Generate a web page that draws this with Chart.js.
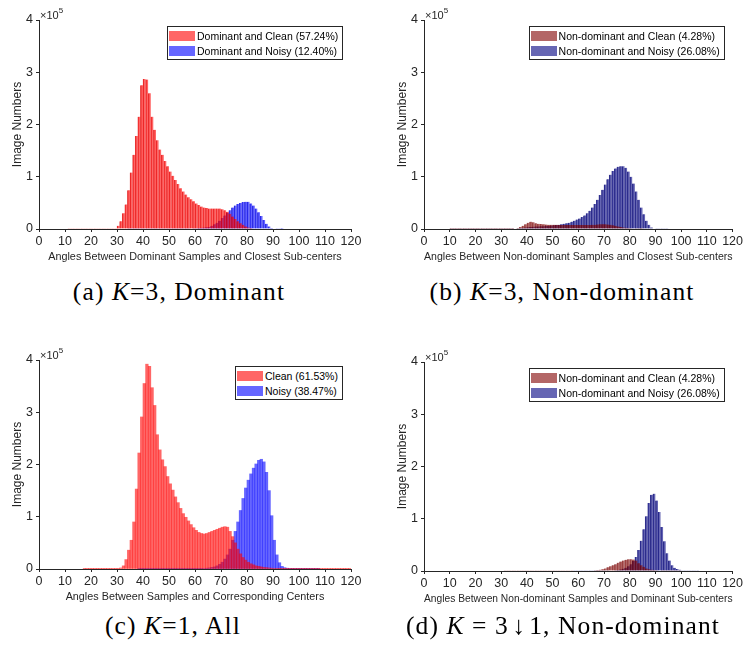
<!DOCTYPE html>
<html>
<head>
<meta charset="utf-8">
<title>Angle histograms</title>
<script src="https://cdn.jsdelivr.net/npm/chart.js@4.4.1/dist/chart.umd.min.js"></script>
<style>
  body { margin: 0; background: #fff; }
  #page { position: relative; width: 745px; height: 652px; overflow: hidden; font-family: 'Liberation Sans', Arial, sans-serif; }
  #page canvas { position: absolute; }
  .expo { position: absolute; font-size: 11px; line-height: 13px; color: #262626; white-space: nowrap; }
  .expo sup { font-size: 8px; position: relative; top: -1px; }
  .legend { position: absolute; border: 1px solid #262626; background: #fff; padding: 1px 4px 1px 1px; font-size: 10.5px; color: #000; white-space: nowrap; }
  .legend .row { height: 15px; display: flex; align-items: center; }
  .legend .sw { width: 26px; height: 10px; margin-right: 2px; }
  .caption { position: absolute; transform: translate(-50%, -50%); font-family: 'Liberation Serif', 'Times New Roman', serif; font-size: 25.5px; letter-spacing: 1.1px; color: #000; white-space: nowrap; }
</style>
</head>
<body>
<div id="page">
  <canvas id="chartA" width="372" height="270" style="left:0;top:0"></canvas>
  <canvas id="chartB" width="360" height="270" style="left:385px;top:0"></canvas>
  <canvas id="chartC" width="372" height="270" style="left:0;top:340px"></canvas>
  <canvas id="chartD" width="360" height="270" style="left:385px;top:342px"></canvas>

  <div class="caption" style="left:179px;top:292px">(a) <i>K</i>=3, Dominant</div>
  <div class="caption" style="left:562px;top:292px">(b) <i>K</i>=3, Non-dominant</div>
  <div class="caption" style="left:173px;top:626px">(c) <i>K</i>=1, All</div>
  <div class="caption" style="left:563px;top:626px">(d) <i>K</i> = 3&#8202;&#8595;&#8202;1, Non-dominant</div>
</div>

<script>
// histogram bins are 1 degree wide; each series lists counts (x 1e5) from its first bin
const binWidth = 1;

// (a) K=3, dominant sub-centers
const domCleanStart = 11;
const domClean = [
  0.005, 0.005, 0.005, 0.005, 0.005, 0.005, 0.005, 0.005, 0.005, 0.005,
  0.005, 0.005, 0.005, 0.005, 0.005, 0.005, 0.005, 0.005, 0.005,
  0.06, 0.15, 0.3, 0.47, 0.74, 1.08, 1.42, 1.78, 2.15, 2.75,
  2.87, 2.86, 2.6, 2.15, 1.9, 1.7, 1.52, 1.42, 1.3, 1.2,
  1.1, 1.02, 0.94, 0.86, 0.78, 0.72, 0.66, 0.61, 0.57, 0.53,
  0.49, 0.46, 0.43, 0.41, 0.4, 0.39, 0.39, 0.39, 0.39, 0.39,
  0.38, 0.36, 0.33, 0.29, 0.24, 0.19, 0.15, 0.11, 0.08, 0.05,
  0.03, 0.02, 0.01
];
const domNoisyStart = 34;
const domNoisy = [
  0.003, 0.003, 0.003, 0.003, 0.003, 0.003, 0.003, 0.003, 0.003, 0.003,
  0.003, 0.003, 0.003, 0.003, 0.003, 0.003, 0.003, 0.003, 0.003, 0.003,
  0.003, 0.003, 0.003, 0.003,
  0.01, 0.012, 0.015, 0.018, 0.022, 0.027, 0.033,
  0.04, 0.06, 0.09, 0.12, 0.16, 0.21, 0.26, 0.31, 0.36, 0.41,
  0.45, 0.48, 0.5, 0.515, 0.52, 0.52, 0.49, 0.45, 0.39, 0.32,
  0.25, 0.17, 0.1, 0.05, 0.02, 0.008, 0.005, 0.003, 0.002
];

// (b) K=3, non-dominant samples vs closest sub-centers
const nonCleanStartB = 10;
const nonCleanB = [
  0.002, 0.002, 0.002, 0.002, 0.002, 0.002, 0.002, 0.002, 0.002, 0.002,
  0.002, 0.002, 0.002, 0.002, 0.002, 0.002, 0.002, 0.002, 0.002, 0.002,
  0.002, 0.002, 0.002, 0.002, 0.002,
  0.01, 0.02, 0.04, 0.06, 0.09, 0.12, 0.14, 0.13, 0.11, 0.1,
  0.095, 0.09, 0.085, 0.08, 0.08, 0.08, 0.08, 0.075, 0.075, 0.075,
  0.075, 0.075, 0.075, 0.075, 0.075, 0.075, 0.075, 0.075, 0.075, 0.075,
  0.08, 0.08, 0.085, 0.09, 0.09, 0.09, 0.085, 0.08, 0.07, 0.06,
  0.05, 0.04, 0.03, 0.025, 0.02, 0.015, 0.01, 0.007, 0.004, 0.002
];
const nonNoisyStartB = 10;
const nonNoisyB = [
  0.003, 0.003, 0.003, 0.003, 0.003, 0.003, 0.003, 0.003, 0.003, 0.003,
  0.003, 0.003, 0.003, 0.003, 0.003, 0.003, 0.003, 0.003, 0.003, 0.003,
  0.003, 0.003, 0.003, 0.003, 0.003,
  0.01, 0.015, 0.02, 0.025, 0.03, 0.035, 0.04, 0.045, 0.05, 0.05,
  0.055, 0.055, 0.06, 0.06, 0.065, 0.07, 0.075, 0.08, 0.09, 0.1,
  0.11, 0.12, 0.14, 0.16, 0.18, 0.2, 0.23, 0.26, 0.3, 0.35,
  0.41, 0.48, 0.56, 0.65, 0.75, 0.85, 0.95, 1.04, 1.11, 1.16,
  1.19, 1.2, 1.2, 1.17, 1.1, 1.0, 0.87, 0.72, 0.56, 0.41,
  0.28, 0.16, 0.08, 0.03, 0.01, 0.005, 0.003, 0.003, 0.003, 0.003
];

// (c) K=1, all samples vs their class centers
const cleanStart = 17;
const cleanAll = [
  0.005, 0.005, 0.005, 0.005, 0.005, 0.005, 0.005, 0.005, 0.005, 0.005,
  0.005, 0.005, 0.005, 0.005,
  0.02, 0.06, 0.18, 0.36, 0.55, 0.9, 1.53, 2.22, 2.91,
  3.55, 3.92, 3.88, 3.47, 3.13, 2.57, 2.28, 2.09, 1.96, 1.77,
  1.63, 1.51, 1.38, 1.27, 1.16, 1.06, 0.99, 0.92, 0.85, 0.79,
  0.74, 0.7, 0.68, 0.67, 0.68, 0.7, 0.72, 0.74, 0.76, 0.78,
  0.8, 0.81, 0.8, 0.72, 0.62, 0.5, 0.38, 0.29, 0.22, 0.17,
  0.13, 0.1, 0.08, 0.06, 0.05, 0.04, 0.03, 0.025, 0.02, 0.015,
  0.01, 0.008, 0.006,
  0.004, 0.004, 0.004, 0.004, 0.004, 0.004, 0.004, 0.004, 0.004, 0.004,
  0.004, 0.004, 0.004, 0.004, 0.004, 0.004, 0.004, 0.004, 0.004, 0.004,
  0.004, 0.004, 0.004, 0.004, 0.004, 0.004, 0.004
];
const noisyStart = 38;
const noisyAll = [
  0.005, 0.005, 0.005, 0.005, 0.005, 0.005, 0.005, 0.005, 0.005, 0.005,
  0.005, 0.005, 0.005, 0.005, 0.005, 0.005, 0.005, 0.005, 0.005, 0.005,
  0.005, 0.005, 0.005, 0.005, 0.005,
  0.01, 0.015, 0.02, 0.03, 0.04, 0.06, 0.09,
  0.13, 0.19, 0.27, 0.38, 0.55, 0.72, 0.9, 1.12, 1.35, 1.55,
  1.7, 1.82, 1.93, 2.01, 2.08, 2.1, 2.05, 1.85, 1.5, 1.02,
  0.55, 0.27, 0.12, 0.05, 0.025, 0.015,
  0.005, 0.005, 0.005, 0.005, 0.005, 0.005, 0.005, 0.005, 0.005, 0.005,
  0.005, 0.005
];

// (d) K=3 -> 1, non-dominant samples vs dominant sub-centers
const nonCleanStartD = 31;
const nonCleanD = [
  0.003, 0.003, 0.003, 0.003, 0.003, 0.003, 0.003, 0.003, 0.003, 0.003,
  0.003, 0.003, 0.003, 0.003, 0.003, 0.003, 0.003, 0.003, 0.003, 0.003,
  0.003, 0.003, 0.003, 0.003, 0.003, 0.003, 0.003,
  0.008, 0.008, 0.008, 0.008, 0.008, 0.008, 0.008, 0.008,
  0.012, 0.018, 0.025, 0.035, 0.05, 0.07, 0.09, 0.11, 0.13, 0.16,
  0.18, 0.2, 0.215, 0.225, 0.225, 0.22, 0.2, 0.15, 0.11, 0.08,
  0.05, 0.035, 0.025, 0.018, 0.012, 0.008,
  0.004, 0.004, 0.004, 0.004, 0.004, 0.004, 0.004, 0.004
];
const nonNoisyStartD = 58;
const nonNoisyD = [
  0.004, 0.004, 0.004, 0.004, 0.004, 0.004, 0.004, 0.004, 0.004, 0.004,
  0.004, 0.004, 0.004,
  0.006, 0.008, 0.01, 0.015, 0.02, 0.03, 0.045, 0.06, 0.09,
  0.13, 0.19, 0.27, 0.4, 0.58, 0.8, 1.05, 1.3, 1.46, 1.48,
  1.35, 1.13, 0.84, 0.57, 0.34, 0.2, 0.11, 0.06, 0.04, 0.025,
  0.015, 0.007, 0.007, 0.007, 0.007, 0.007, 0.007
];

const xTicksMax = 120;
const yTicksMax = 4;

const COLORS = {
  red: { face: 'rgba(255,0,0,0.6)', edge: 'rgba(215,0,0,0.75)' },
  blue: { face: 'rgba(0,0,255,0.6)', edge: 'rgba(0,0,205,0.75)' },
  maroon: { face: 'rgba(128,0,0,0.6)', edge: 'rgba(110,0,0,0.6)' },
  navy: { face: 'rgba(0,0,128,0.6)', edge: 'rgba(0,0,110,0.75)' }
};
const AXIS_COLOR = '#262626';
const FONT = "'Liberation Sans', Arial, sans-serif";

function toBins(start, values) {
  return values.map((v, i) => ({ x: start + i * binWidth + binWidth / 2, y: v }));
}

const panels = [
  {
    id: 'chartA', padRight: 21, edges: true,
    xTitle: 'Angles Between Dominant Samples and Closest Sub-centers',
    series: [
      { label: 'Dominant and Clean (57.24%)', start: domCleanStart, values: domClean, color: COLORS.red },
      { label: 'Dominant and Noisy (12.40%)', start: domNoisyStart, values: domNoisy, color: COLORS.blue }
    ]
  },
  {
    id: 'chartB', padRight: 10, edges: true,
    xTitle: 'Angles Between Non-dominant Samples and Closest Sub-centers',
    series: [
      { label: 'Non-dominant and Clean (4.28%)', start: nonCleanStartB, values: nonCleanB, color: COLORS.maroon },
      { label: 'Non-dominant and Noisy (26.08%)', start: nonNoisyStartB, values: nonNoisyB, color: COLORS.navy }
    ]
  },
  {
    id: 'chartC', padRight: 21, edges: false,
    xTitle: 'Angles Between Samples and Corresponding Centers',
    series: [
      { label: 'Clean (61.53%)', start: cleanStart, values: cleanAll, color: COLORS.red },
      { label: 'Noisy (38.47%)', start: noisyStart, values: noisyAll, color: COLORS.blue }
    ]
  },
  {
    id: 'chartD', padRight: 10, edges: true,
    xTitle: 'Angles Between Non-dominant Samples and Dominant Sub-centers',
    series: [
      { label: 'Non-dominant and Clean (4.28%)', start: nonCleanStartD, values: nonCleanD, color: COLORS.maroon },
      { label: 'Non-dominant and Noisy (26.08%)', start: nonNoisyStartD, values: nonNoisyD, color: COLORS.navy }
    ]
  }
];

function addOverlays(chart) {
  const page = document.getElementById('page');
  const canvas = chart.canvas;
  const offX = canvas.offsetLeft;
  const offY = canvas.offsetTop;
  const area = chart.chartArea;

  // MATLAB-style exponent label above the y axis
  const expo = document.createElement('div');
  expo.className = 'expo';
  expo.innerHTML = '&times;10<sup>5</sup>';
  expo.style.left = (offX + area.left + 1) + 'px';
  expo.style.top = (offY + area.top - 15) + 'px';
  page.appendChild(expo);

  // boxed legend in the upper right corner of the axes
  const legend = document.createElement('div');
  legend.className = 'legend';
  legend.innerHTML = chart.data.datasets.map(ds => `
    <div class="row"><span class="sw" style="background:${ds.backgroundColor}"></span>${ds.label}</div>
  `).join('');
  page.appendChild(legend);
  legend.style.left = (offX + area.right - 8 - legend.offsetWidth) + 'px';
  legend.style.top = (offY + area.top + 6) + 'px';
}

panels.forEach(panel => {
  const ctx = document.getElementById(panel.id).getContext('2d');
  const chart = new Chart(ctx, {
    type: 'bar',
    data: {
      datasets: panel.series.map(s => ({
        label: s.label,
        data: toBins(s.start, s.values),
        backgroundColor: s.color.face,
        borderColor: s.color.edge,
        borderWidth: panel.edges ? { left: 0.7, right: 0, top: 0, bottom: 0 } : 0,
        grouped: false,
        barPercentage: 1,
        categoryPercentage: 1
      }))
    },
    options: {
      responsive: false,
      animation: false,
      devicePixelRatio: 1,
      layout: { padding: { left: 0, right: panel.padRight, top: 20, bottom: 0 } },
      plugins: {
        legend: { display: false },
        tooltip: { enabled: false }
      },
      scales: {
        x: {
          type: 'linear',
          min: 0,
          max: xTicksMax,
          offset: false,
          afterFit: (scale) => { scale.height = 41; },
          grid: { offset: false, drawOnChartArea: false, drawTicks: true, tickLength: 3, color: AXIS_COLOR },
          border: { display: true, color: AXIS_COLOR, width: 1 },
          ticks: { stepSize: 10, maxRotation: 0, autoSkip: false, padding: 2, color: AXIS_COLOR, font: { family: FONT, size: 12.5 } },
          title: {
            display: true,
            text: panel.xTitle,
            color: AXIS_COLOR,
            font: { family: FONT, size: 10.8 },
            padding: { top: 0, bottom: 6 }
          }
        },
        y: {
          min: 0,
          max: yTicksMax,
          afterFit: (scale) => { scale.width = 39; },
          grid: { drawOnChartArea: false, drawTicks: true, tickLength: 3, color: AXIS_COLOR },
          border: { display: true, color: AXIS_COLOR, width: 1 },
          ticks: { stepSize: 1, padding: 3, color: AXIS_COLOR, font: { family: FONT, size: 12.5 } },
          title: {
            display: true,
            text: 'Image Numbers',
            color: AXIS_COLOR,
            font: { family: FONT, size: 12 },
            padding: { top: 10, bottom: 0 }
          }
        }
      }
    }
  });
  addOverlays(chart);
});
</script>
</body>
</html>
